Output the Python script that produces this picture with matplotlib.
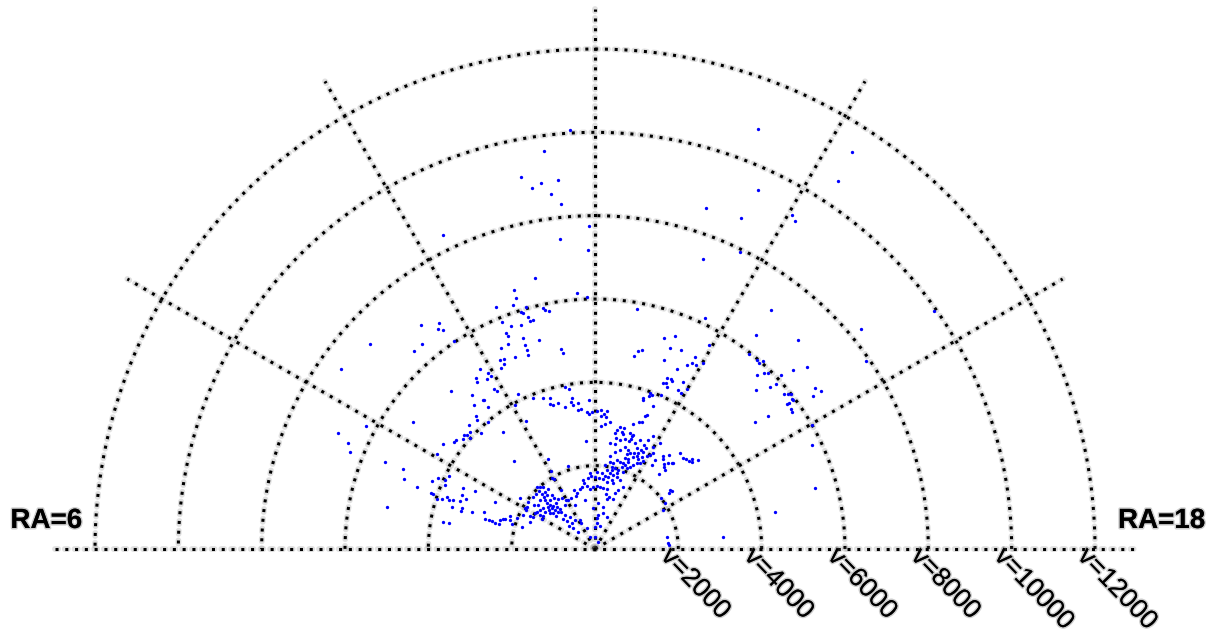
import numpy as np
import matplotlib
matplotlib.use("Agg")
import matplotlib.pyplot as plt
import matplotlib.patheffects as pe

# Galaxy positions: right ascension (hours) and recession velocity cz (km/s)
ra_field = [10.28, 11.77, 11.51, 11.25, 11.34, 11.44, 11.62, 11.53, 11.63, 11.93, 11.57, 11.91,
            13.41, 14.19, 14.23, 13.63, 13.20, 13.59, 14.03, 14.09, 13.74, 13.36,
            14.43, 14.47, 14.95, 13.70, 13.95, 13.83, 13.92, 13.83, 14.01,
            14.71, 14.76, 14.79, 14.55, 15.19, 15.29, 15.13, 14.87, 14.92, 14.97, 15.18, 15.15, 15.03,
            15.59, 15.67, 15.37, 15.41, 15.45, 15.51, 15.66, 15.68, 15.36, 15.66,
            15.53, 15.53, 15.63, 15.68, 15.49, 15.44, 16.02, 16.29, 16.97, 17.23, 17.64, 15.53,
            8.35, 7.62, 7.55, 7.44, 6.76, 7.51, 7.88, 8.33, 7.51, 7.34, 7.28]
cz_field = [8370, 10070, 9630, 9100, 8800, 8880, 8900, 8590, 8320, 7750, 7490, 7180,
            10810, 11350, 10580, 9460, 8610, 8680, 9310, 9220, 7930, 7430,
            7120, 6430, 6990, 6140, 5610, 5200, 5040, 5030, 5160,
            5970, 5950, 6050, 5960, 6410, 6710, 6110, 5710, 5860, 5920, 5880, 5720, 5430,
            6540, 6620, 5870, 5940, 6000, 5940, 6390, 7920, 8290, 9940,
            5780, 5830, 5780, 5760, 5240, 4900, 6000, 5780, 5480, 4410, 3090, 5950,
            7470, 6770, 6450, 6320, 5090, 5450, 6240, 5330, 4990, 4880, 4520]

ra_west = [10.52, 9.48, 9.69, 9.63, 9.68, 8.82, 9.32, 9.17, 9.73, 10.51, 10.51, 10.52, 10.47,
           10.33, 10.22, 10.29, 10.25, 10.17, 9.83, 9.91, 9.93, 9.84, 9.68, 9.65, 9.85, 9.88,
           9.18, 9.43, 9.55]
cz_west = [6280, 6810, 6590, 6490, 6400, 7310, 6440, 6440, 6030, 5890, 5610, 5520, 5350,
           5330, 5080, 5060, 4950, 4900, 5130, 4940, 4850, 4830, 5000, 4910, 4540, 4460,
           5130, 4730, 4460]

ra_arc = [11.17, 10.84, 10.83, 10.76, 10.94, 10.85, 10.87, 10.93, 10.99, 10.94, 10.78, 10.63,
          11.19, 11.21, 11.27, 11.73, 11.88, 11.00, 10.75, 10.74, 10.74, 10.73, 10.49, 11.36, 11.38,
          12.66, 12.82, 12.89, 12.76, 13.21, 13.37, 13.37, 13.56, 13.33, 13.77, 13.63, 13.52,
          13.61, 13.64, 13.49, 13.55, 13.60, 13.85, 13.84, 13.93, 13.99,
          11.30, 11.39, 11.42, 11.85, 10.89, 10.73, 10.51, 10.24, 13.29, 13.35, 13.29, 13.55, 13.17]
cz_arc = [6660, 6510, 6320, 6180, 6040, 5960, 5920, 5800, 5690, 5690, 5660, 5720,
          5920, 5860, 5820, 6160, 6050, 5190, 5350, 5180, 5050, 4930, 4990, 4870, 4770,
          5850, 4860, 4910, 4730, 5330, 5460, 5150, 5200, 4830, 4940, 4750, 4450,
          4470, 4440, 4310, 4330, 4260, 4530, 4310, 4280, 4430,
          3950, 3890, 3670, 3580, 3780, 3830, 3920, 4150, 3970, 3940, 3890, 4020, 3800]

ra_east = [9.33, 9.54, 9.53, 9.21, 9.17, 9.33, 8.97, 9.45, 8.87, 9.03, 8.73, 8.78, 8.65, 8.77,
           8.54, 8.48, 8.31, 8.07,
           7.51, 7.62, 7.65, 7.77, 7.54, 7.65, 7.72, 7.26, 7.25, 7.17, 7.21, 7.29, 7.24, 7.27,
           7.47, 7.41, 7.31, 7.09, 7.14, 7.05, 7.11, 7.23, 7.68,
           6.67, 6.67, 7.02, 7.02, 7.01, 6.97, 7.13, 7.21, 7.23, 6.97, 7.41, 7.25]
cz_east = [4510, 4470, 4270, 4280, 4200, 3990, 4240, 3570, 4110, 3900, 4170, 4110, 4120, 4010,
           4240, 4250, 4430, 4430,
           4230, 4140, 3960, 3920, 3910, 3490, 3200, 4160, 4110, 3980, 3860, 3770, 3700, 3610,
           3450, 3320, 3440, 3580, 3340, 3340, 3080, 2810, 2650,
           3710, 3560, 2740, 2640, 2560, 2480, 2380, 2320, 2280, 2380, 2190, 2160]

ra_bridge = [10.06, 10.85, 10.91, 11.05, 11.21, 11.38, 11.42, 11.56, 11.62, 11.53, 11.78, 11.83,
             11.92, 12.05, 12.17, 12.25, 12.33, 12.17, 12.32, 12.31, 12.19, 11.68, 10.11, 9.16,
             10.16, 10.80, 10.04, 9.92, 9.97]
cz_bridge = [3950, 3640, 3600, 3620, 3480, 3580, 3500, 3530, 3380, 3360, 3290, 3240,
             3290, 3310, 3340, 3250, 3330, 3200, 3180, 3010, 2960, 2600, 3490, 2870,
             2440, 2100, 2150, 1990, 1950]

ra_local = [9.13, 9.23, 9.33, 9.07, 8.87, 9.07, 9.04, 9.23, 9.43, 9.41, 9.57, 9.81, 9.96, 10.07,
            10.32, 10.69, 10.81, 11.07, 11.21, 10.00, 10.69,
            8.28, 8.03, 8.11, 7.97, 8.39, 8.92, 8.79, 8.96, 8.91, 9.05, 8.95, 8.69, 9.19, 9.00,
            9.25, 8.71, 8.07, 7.79, 7.82, 8.11, 8.16, 7.51, 7.69, 7.45, 7.12, 7.12,
            9.24, 9.47, 8.88, 9.00, 9.23, 9.69, 10.17, 8.77, 8.92, 9.00, 10.11, 10.61, 10.49,
            12.00, 12.00, 12.29, 12.82, 12.25, 12.33, 12.83, 13.37, 11.81, 12.25, 12.72, 12.90,
            13.01, 12.75, 12.75, 12.50, 12.31, 12.12, 11.88, 11.68, 11.52, 11.37, 11.34, 11.63,
            11.79, 12.00, 12.21, 12.43, 12.68, 12.68, 12.35, 12.10, 11.75, 13.55]
cz_local = [2040, 1990, 1940, 1940, 1940, 1830, 1750, 1730, 1660, 1570, 1490, 1460, 1370, 1340,
            1350, 1350, 1410, 1480, 1520, 1630, 1500,
            2180, 1950, 1920, 1900, 1810, 1600, 1510, 1510, 1430, 1440, 1340, 1450, 1360, 1260,
            1280, 1330, 1680, 1750, 1680, 1550, 1480, 1690, 1910, 2010, 2080, 1830,
            1090, 970, 1050, 950, 830, 850, 780, 830, 730, 580, 710, 540, 310,
            290, 530, 630, 570, 750, 820, 890, 820, 990, 1110, 1030, 1230,
            1290, 1350, 1470, 1480, 1490, 1510, 1490, 1450, 1520, 1610, 1680, 1710,
            1760, 1730, 1710, 1690, 1630, 1760, 1830, 1850, 1830, 180]

# Dense core of the nearby cluster
ra_core = [8.78, 8.96, 9.16, 8.51, 8.55, 8.43, 8.35, 8.58, 9.31, 9.25, 9.46, 8.67, 8.33, 8.17,
           7.97, 8.68, 9.16, 9.71, 10.37, 11.23]
cz_core = [1770, 1680, 1600, 1730, 1590, 1490, 1620, 1380, 1450, 1820, 1830, 1940, 1960, 1650,
           1460, 1230, 1210, 1280, 1160, 1200]

ra_cloud = [13.47, 13.19, 13.41, 13.37, 13.27, 13.35, 13.13, 12.45, 12.77, 12.90, 12.87, 12.91,
            13.12, 13.23, 12.70, 12.65, 12.71, 12.86, 13.02, 13.17, 13.21, 13.21, 12.72,
            13.81, 13.97, 14.10, 13.68, 13.79, 13.66, 13.75, 13.61, 13.51, 13.47, 13.33, 13.24,
            13.21, 13.34, 13.49, 13.62, 13.70, 13.81, 13.95, 14.02, 14.07,
            14.41, 14.47, 14.55, 14.69, 14.79, 14.61, 14.70, 14.67, 14.77, 14.77, 14.93, 15.02,
            15.13, 15.14, 15.28, 15.21, 14.81,
            14.28, 13.91, 13.73, 13.62, 13.54, 13.20, 13.07, 12.93, 12.79, 12.65, 12.78, 12.93,
            13.08, 13.21, 13.31, 13.44, 13.33, 13.07, 12.91, 12.75, 12.92, 13.13, 13.33, 13.02,
            13.62, 13.42, 13.31, 13.32,
            15.45, 15.53, 15.53, 15.49, 15.78, 16.01, 17.37, 17.69, 17.79, 12.54,
            12.45, 12.57, 12.52, 12.61, 12.78, 12.95, 13.09, 13.23, 13.38, 13.49, 13.73, 12.81,
            13.39, 13.84, 14.27]
cz_cloud = [3700, 3760, 3450, 3410, 3230, 3250, 3140, 3070, 2990, 2990, 2880, 2840,
            2910, 2880, 2900, 2830, 2710, 2680, 2740, 2720, 2850, 2780, 2570,
            3050, 2820, 2980, 2760, 2720, 2620, 2600, 2530, 2630, 2490, 2450, 2410,
            2300, 2300, 2390, 2450, 2390, 2480, 2560, 2610, 2690,
            2770, 2710, 2870, 2710, 2770, 2630, 2370, 2570, 2530, 3080, 3040, 3070,
            3090, 3180, 3270, 3130, 2790,
            2440, 2410, 2300, 2210, 2140, 2170, 2170, 2200, 2110, 2120, 2010, 2000,
            1980, 2070, 2140, 2090, 1970, 1900, 1830, 1860, 1710, 1810, 1760, 1640,
            1630, 1520, 1430, 1280,
            2290, 2310, 2230, 2000, 2010, 1880, 1750, 1760, 1780, 2570,
            2030, 1920, 1770, 2260, 2380, 2450, 2550, 2510, 2720, 2830, 2910, 1940,
            2230, 2330, 2580]

# Grid definition
ra_left, ra_right = 6, 18
ring_cz = [2000, 4000, 6000, 8000, 10000, 12000]
ring_labels = ["v=2000", "v=4000", "v=6000", "v=8000", "v=10000", "v=12000"]
spoke_ra = [8, 10, 12, 14, 16]
spoke_len = 12960


def to_xy(ra_h, cz):
    """RA runs from 6h (left) to 18h (right) over a half circle; radius is cz."""
    theta = np.deg2rad((ra_right - np.asarray(ra_h, dtype=float)) * 15.0)
    cz = np.asarray(cz, dtype=float)
    return cz * np.cos(theta), cz * np.sin(theta)


ra_all = np.concatenate([ra_field, ra_west, ra_arc, ra_east, ra_bridge, ra_local, ra_core, ra_cloud])
cz_all = np.concatenate([cz_field, cz_west, cz_arc, cz_east, cz_bridge, cz_local, cz_core, cz_cloud])

plt.rcParams["font.family"] = ["Liberation Sans", "DejaVu Sans"]

fig = plt.figure(figsize=(12.15, 6.3), dpi=100)
ax = fig.add_axes([0, 0, 1, 1])
ax.set_xlim(-14280, 14880)
ax.set_ylim(-1944, 13176)
ax.set_aspect("equal")
ax.axis("off")

halo_line = [pe.Stroke(linewidth=4.2, foreground=(0.45, 0.45, 0.45, 0.22), capstyle="round"),
             pe.Normal()]
halo_text = [pe.withStroke(linewidth=2.2, foreground=(0.35, 0.35, 0.35, 0.3))]
dotted = dict(color="black", lw=2.2, linestyle=(0, (1, 2.2)), path_effects=halo_line, zorder=2)

# Rings of constant velocity
phi = np.linspace(0, np.pi, 400)
for v in ring_cz:
    ax.plot(v * np.cos(phi), v * np.sin(phi), **dotted)

# Spokes of constant RA and the 6h-18h baseline
for r in spoke_ra:
    sx, sy = to_xy([r, r], [0, spoke_len])
    ax.plot(sx, sy, **dotted)
bx, by = to_xy([ra_left, ra_right], [spoke_len, spoke_len])
ax.plot([bx[0], bx[1]], [0, 0], **dotted)

# Galaxies
gx, gy = to_xy(ra_all, cz_all)
ax.plot(gx, gy, "o", color="#0000ff", ms=2.4, mec="none", zorder=3)

# Labels
ax.text(bx[0] - 1070, 504, f"RA={ra_left}", fontsize=20, fontweight="bold",
        ha="left", va="baseline", path_effects=halo_text)
ax.text(bx[1] + 1680, 504, f"RA={ra_right}", fontsize=20, fontweight="bold",
        ha="right", va="baseline", path_effects=halo_text)
for v, lab in zip(ring_cz, ring_labels):
    ax.text(v - 110, 120, lab, fontsize=19, rotation=-46, rotation_mode="anchor",
            ha="left", va="top", path_effects=halo_text)

fig.savefig("out.png", dpi=100)
